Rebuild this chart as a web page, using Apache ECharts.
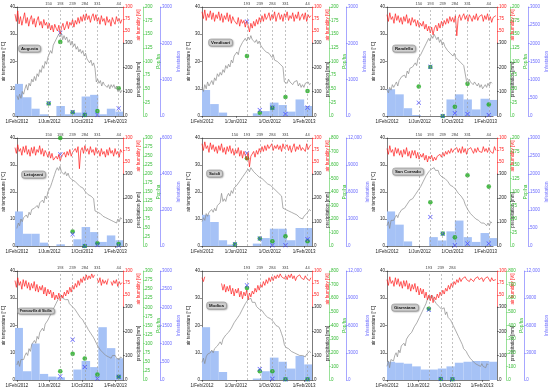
<!DOCTYPE html>
<html><head><meta charset="utf-8">
<script src="https://cdn.jsdelivr.net/npm/echarts@6/dist/echarts.min.js"></script>
<style>html,body{margin:0;padding:0;background:#fff}#c{width:550px;height:390px}</style>
</head><body><div id="c"></div>
<script>
// ---------------- data ----------------
const sites = ['Augusta','Vendicari','Randello','Letojanni','Scicli','San Corrado','Francavilla di Sicilia','Modica','Giarratana'];
const startDate = '2012-02-01';
const endDate = '2013-03-01';
const xTickDates = ['2012-02-01','2012-06-01','2012-10-01','2013-02-01'];
const xTickLabels = ['1/Feb/2012','1/Jun/2012','1/Oct/2012','1/Feb/2013'];
const sampleStep = 5; // days between plotted temperature / humidity readings, from startDate
const monthStarts = ['2012-02-01','2012-03-01','2012-04-01','2012-05-01','2012-06-01','2012-07-01','2012-08-01','2012-09-01','2012-10-01','2012-11-01','2012-12-01','2013-01-01','2013-02-01','2013-03-01'];

// air temperature [°C]
const tempAugusta = [7.5,6,8,6.5,9,8,10, 11.5,9.5,12,11,13.5,12.5, 14.5,13,15.5,14.5,17,16, 18.5,17.5,20,19,21.5,22, 24,23,26,25.5,28,27.5, 30,29,30.5,28,29.5,28, 29,27,28,26,27.5,25.5, 26.5,24.5,25.5,23.5,24.5,23, 24,22,23,21,21.5,19.5, 20.5,18.5,19.5,17.5,12.5,13.5, 12,13,11,12.5,11.5,12, 10.5,11.5,10,11.5,10.5,11.5, 10,11,9,10,8.5,9.5];
const tempVendicari = [10.5,9,11.5,10,12.5,11,12, 13,11.5,14,13,15.5,14.5, 16,15,17,16,18.5,17.5, 19,18,20.5,19.5,22,21.5, 23.5,22.5,25,24.5,27,26.5, 28.5,27.5,29,28,29.5,28, 28.5,27,28,26.5,27.5,26, 26,24.5,25,23.5,24,23, 23.5,21.5,22.5,20.5,21,20, 20.5,19,19.5,18,12.5,13, 12,13.5,12.5,13,11.5,12.5, 12,13,11,12,10.5,11.5, 10.5,12,11.5,12.5,11.5,12];
const tempRandello = [9.5,8.5,10.5,9.5,11.5,10.5,11.5, 12.5,11,13,12.5,14.5,14, 15,14,16.5,15.5,17.5,17, 18,17.5,19.5,18.5,21,20.5, 22.5,22,24.5,24,26.5,27, 28.5,27.5,29.5,28.5,30,29, 28,29,27,28,26,27, 25.5,26,24,24.5,23,23.5, 22,23,21.5,22,20.5,21, 19.5,20,18.5,19,13,12, 13.5,12.5,13,11.5,12.5,12, 11,12,10.5,11.5,10,10.5, 11.5,10.5,12,11,12.5,12];
const tempLetojanni = [6.5,8.5,7.5,10,9,10.5,10, 11.5,10.5,12.5,11.5,13.5,13, 14,13.5,15,14,16,15.5, 17,16,18.5,17.5,20,20.5, 22,23.5,25,26.5,28,29, 28,29.5,27.5,28,26.5,27.5, 26,27,25.5,26,24.5,25, 24,24.5,23,23.5,22,22.5, 21.5,21,20,20.5,19,19.5, 18.5,18,17.5,13,13.5,12.5, 13,12,12.5,11,11.5,10.5, 11,10,10.5,9.5,10,9, 9.5,8.5,10,9,10.5,10];
const tempScicli = [9,10.5,9.5,12,11,12.5,12, 13.5,12.5,14,13,15,14.5, 16,19.5,16.5,17.5,16.5,18.5, 19.5,18.5,20.5,19.5,21.5,21, 22.5,22,24,23.5,25.5,26, 27,26.5,28.5,27.5,29,28.5, 27.5,28,26.5,27,25.5,26, 25,25.5,24,24.5,23,23.5, 22.5,22,21.5,21,20.5,20, 19.5,19,18.5,14,14.5,13.5, 14,13,13.5,12.5,13,12, 12.5,11.5,12,10.5,11,10, 11,10.5,12,11.5,13.5,13];
const tempSanCorrado = [7.5,9,6.5,9.5,10,9.5,10.5, 11.5,10.5,12,11.5,13.5,13, 14,13.5,15.5,15,17,16.5, 17.5,17,19,18.5,20.5,20.5, 22,21.5,24,23.5,26,26.5, 27.5,27,28.5,28,29,28, 27.5,28,26.5,27,25.5,25.5, 25,24.5,24,23.5,22.5,22.5, 22,21.5,21,20.5,19.5,19.5, 18.5,18,17,15.5,14.5,13.5, 13,12,12.5,11,11.5,10, 10.5,9.5,10,8.5,9,8.5, 9,7.5,8.5,7.5,9,8.5];
const tempFrancavilla = [5.5,7,5,7.5,8,7.5,9, 10,9,11.5,10.5,13,12.5, 14.5,13.5,16,15,17.5,17, 19,18,20.5,20,22,22, 24,23.5,26,25.5,28,28.5, 30,29.5,31,30,30.5,29.5, 29,29.5,28,28,27,27, 26,25.5,24.5,24,23,23, 22,21,20.5,19.5,18.5,18, 17,16.5,15.5,14.5,13.5,12.5, 12,11,11.5,10,10,9, 9.5,8.5,9,8,9,8.5, 9,8,8.5,7.5,8.5,8];
const tempModica = [6.5,8,6,8.5,9.5,9,10, 11,10,11.5,11,12.5,12.5, 14,13,15,14.5,16.5,16, 17.5,17,19,18.5,21,21, 22.5,22,24,24,26,26.5, 28,27.5,29.5,29,30,28.5, 28,28.5,27,27,26,26.5, 25.5,25,24,24,23,23, 22.5,22,21.5,21,20,20, 19.5,18.5,17,15.5,13,12, 12.5,11.5,11.5,10.5,11,10, 10.5,9.5,10,9,9.5,9, 9.5,8.5,9.5,9,10.5,10];
const tempGiarratana = [5,7,4.5,7.5,8,7,9, 10,8.5,11,10,12.5,12, 13.5,12.5,15,14.5,16.5,16, 17.5,17,19.5,19,21,21.5, 23,22.5,25,25,27,28, 29.5,29,31,30,31,29.5, 29,28,28.5,27,27.5,26, 25.5,26.5,24,25,23,23.5, 22,21,20,19.5,18,17.5, 16,15,14,13,11.5,11, 10.5,9.5,9,8,7.5,7, 7.5,6,6.5,5.5,6,5, 6,5,5.5,4.5,6,5.5];

// air humidity [%]
const rhAugusta = [85,70,92,65,80,62,75, 88,66,78,60,74,82, 64,76,58,72,80,62, 70,56,74,62,68,55, 66,52,62,48,64,56, 50,62,44,58,66,52, 60,70,55,68,62,74, 58,72,64,78,66,80, 70,84,72,86,74,82, 68,80,86,72,84,70, 78,64,82,70,76,62, 80,68,74,60,78,70, 64,80,70,76,66,74];
const rhVendicari = [90,76,94,72,86,78,92, 74,88,70,84,76,90, 72,86,68,82,74,88, 70,84,66,80,72,76, 64,78,60,74,66,72, 58,70,62,48,66,56, 70,60,74,64,78,68, 82,70,86,74,80,88, 72,84,76,90,70,82, 88,74,84,70,86,78, 90,72,82,76,88,70, 84,76,90,72,80,86, 74,88,70,84,78,82];
const rhRandello = [84,70,88,74,80,66,86, 72,82,68,78,64,80, 70,84,66,76,62,78, 68,74,60,72,58,66, 60,70,54,64,50,60, 46,58,42,56,62,50, 66,56,70,60,72,64, 76,66,80,70,78,68, 82,40,76,84,72,80, 86,74,82,70,84,78, 70,82,74,86,72,80, 76,84,70,82,74,86, 72,80,68,78,74,82];
const rhLetojanni = [80,68,86,72,78,64,82, 70,84,66,76,62,80, 68,82,64,76,70,84, 66,78,62,74,68,60, 72,58,68,54,50,62, 56,66,52,62,58,70, 60,72,64,76,62,70, 66,78,70,82,36,74, 80,68,84,72,78,66, 82,70,76,64,80,68, 74,62,78,66,72,60, 76,64,80,68,74,62, 78,66,72,60,76,70];
const rhScicli = [88,74,92,78,84,70,90, 76,86,72,82,68,84, 74,88,70,80,66,82, 72,84,68,78,64,76, 68,80,62,74,58,72, 64,54,70,40,62,66, 72,60,74,66,78,70, 82,72,84,74,86,78, 80,88,74,84,78,86, 76,84,72,88,78,82, 86,74,84,70,80,88, 72,82,76,86,74,80, 84,72,88,76,82,86];
const rhSanCorrado = [78,66,84,70,76,62,80, 68,78,64,74,60,76, 66,80,62,72,58,74, 64,74,58,70,56,66, 60,68,54,64,50,62, 56,64,52,60,54,62, 58,66,60,70,62,72, 66,74,68,78,70,76, 72,80,70,78,68,82, 70,78,66,76,72,80, 74,68,78,70,80,72, 76,70,82,72,78,70, 80,72,76,68,82,74];
const rhFrancavilla = [80,66,86,70,78,62,82, 68,80,64,76,60,74, 64,78,58,72,56,68, 60,70,52,66,48,62, 52,60,44,56,40,50, 42,54,38,50,44,56, 48,60,52,66,56,70, 62,74,66,80,70,84, 76,88,80,92,82,90, 84,94,86,92,null,84, 76,86,70,82,74,80, 72,84,null,78,70,80, 74,82,68,78,72,76];
const rhModica = [86,78,88,null,null,null,null, null,null,null,null,null,null, null,74,60,72,56,68, 58,70,52,64,48,62, 54,64,46,58,42,56, 48,60,40,54,46,58, 52,64,56,70,60,72, 66,78,70,82,74,86, 78,88,80,90,84,92, 86,94,88,92,84,90, 82,92,86,94,84,90, 80,88,84,92,86,90, 82,90,84,88,80,86];
const rhGiarratana = [82,70,88,74,80,68,86, 72,84,68,78,64,80, 68,80,62,74,58,72, 62,74,56,68,50,64, 52,62,44,56,40,50, 38,50,34,46,40,52, 44,56,48,60,52,64, 58,70,62,74,66,78, 72,82,76,86,78,84, 80,88,82,86,78,84, 86,78,84,80,88,82, 80,86,78,84,82,88, 84,78,86,80,84,82];

// monthly precipitation [mm], Feb 2012 .. Feb 2013
const rainAugusta = [132,77,30,7,0,41,7,14,80,87,7,30,18];
const rainVendicari = [107,49,14,0,0,0,11,20,55,45,18,68,41];
const rainRandello = [110,89,32,4,0,0,0,68,89,68,27,71,66];
const rainLetojanni = [144,51,51,14,0,7,0,28,79,58,17,44,24];
const rainScicli = [130,100,24,6,0,0,10,33,72,72,24,75,75];
const rainSanCorrado = [144,89,19,0,0,37,23,61,106,37,17,54,33];
const rainFrancavilla = [214,36,150,25,14,11,0,43,78,53,217,131,89];
const rainModica = [217,119,33,0,0,0,6,36,92,75,47,99,64];
const rainGiarratana = [75,71,67,56,43,43,47,56,71,75,78,78,75];

// sampling days (day of year, in time order: 150..331 are 2012, 44 is 2013)
const doyAugusta = [150,193,239,284,331,44];
const popAugusta = [23,136,7,2,9,51];
const infAugusta = [350,2290,110,30,30,210];
const doyVendicari = [193,239,284,331,44];
const popVendicari = [110,6,15,35,46];
const infVendicari = [2600,165,230,55,230];
const doyRandello = [150,193,239,284,331,44];
const popRandello = [54,90,0,17,59,21];
const infRandello = [366,1357,0,74,55,28];
const doyLetojanni = [150,193,239,284,331,44];
const popLetojanni = [null,300,40,0,7.5,5.5];
const infLetojanni = [null,5090,650,0,60,20];
const doyScicli = [150,193,239,284,331,44];
const popScicli = [12,650,55,35,72,35];
const infScicli = [190,10300,830,80,80,750];
const doySanCorrado = [150,193,239,284,331,44];
const popSanCorrado = [null,81,23,16,131,110];
const infSanCorrado = [null,806,342,20,67,67];
const doyFrancavilla = [193,239,284,331,44];
const popFrancavilla = [24,72,59,15,9];
const infFrancavilla = [100,1110,358,40,90];
const doyModica = [193,239,284,331,44];
const popModica = [675,64,64,5,5];
const infModica = [10420,1210,140,60,60];
const doyGiarratana = [193,239,284];
const popGiarratana = [523,7,5];
const infGiarratana = [7740,110,80];

// axis scales per site
const popMax = [200,200,200,300,800,200,300,800,800];
const popStep = [25,25,25,25,100,25,25,100,100];
const infMax = [3000,3000,3000,6000,12000,3000,3000,12000,12000];
const infStep = [1000,1000,500,2000,3000,500,500,3000,3000];

// ---------------- layout ----------------
const colLeft = [15,202,387], colWidth = [108,110,110];
const rowTop = [7,138,271], rowHeight = [109,108,109];
const rhHeight = 36;
const greenOffset = [20,17,17], blueOffset = [37,34,35];
const titleOffset = [[3,38],[6,32],[5,38],[6,33],[4,32],[5,30],[2,37],[4,31],[4,33]];
const titleFont = [4.3,4.3,4.3,4.3,4.3,4.3,3.3,4.3,4.3];
const FONT = 'Liberation Sans, Arial, Helvetica, sans-serif';
const FS = 4.5;

const siteData = [
 {t:tempAugusta,h:rhAugusta,r:rainAugusta,d:doyAugusta,p:popAugusta,n:infAugusta},
 {t:tempVendicari,h:rhVendicari,r:rainVendicari,d:doyVendicari,p:popVendicari,n:infVendicari},
 {t:tempRandello,h:rhRandello,r:rainRandello,d:doyRandello,p:popRandello,n:infRandello},
 {t:tempLetojanni,h:rhLetojanni,r:rainLetojanni,d:doyLetojanni,p:popLetojanni,n:infLetojanni},
 {t:tempScicli,h:rhScicli,r:rainScicli,d:doyScicli,p:popScicli,n:infScicli},
 {t:tempSanCorrado,h:rhSanCorrado,r:rainSanCorrado,d:doySanCorrado,p:popSanCorrado,n:infSanCorrado},
 {t:tempFrancavilla,h:rhFrancavilla,r:rainFrancavilla,d:doyFrancavilla,p:popFrancavilla,n:infFrancavilla},
 {t:tempModica,h:rhModica,r:rainModica,d:doyModica,p:popModica,n:infModica},
 {t:tempGiarratana,h:rhGiarratana,r:rainGiarratana,d:doyGiarratana,p:popGiarratana,n:infGiarratana}
];

const START = Date.parse(startDate+'T00:00:00Z');
const dayOf = s => Math.round((Date.parse(s+'T00:00:00Z') - START)/86400000);
const spanDays = dayOf(endDate);
const xTickPos = xTickDates.map(dayOf);
const jan2012 = dayOf('2012-01-01'), jan2013 = dayOf('2013-01-01');
// convert a time-ordered list of day-of-year values to days since startDate (year rolls over when DOY decreases)
const doyListToDays = list => { let base = jan2012, prev = 0; return list.map(d => { if (d < prev) base = jan2013; prev = d; return base + d - 1; }); };
const fmtX = v => { const k = xTickPos.indexOf(Math.round(v)); return k >= 0 ? xTickLabels[k] : ''; };
const fmtBlue = v => v >= 10000 ? v.toLocaleString('en-US') : String(v);

const RED = '#ff1a1a', GREEN = '#1faa1f', GREEN_TXT = '#33bb33', BLUE = '#6b6bff', XBLUE = '#2f2fff', INK = '#222';
const XSYM = 'path://M1,0L5,4L9,0L10,1L6,5L10,9L9,10L5,6L1,10L0,9L4,5L0,1Z';

const option = {animation:false, backgroundColor:'#fff', textStyle:{fontFamily:FONT}, title:[], grid:[], xAxis:[], yAxis:[], series:[]};

sites.forEach((name,i)=>{
  const col = i%3, row = Math.floor(i/3);
  const L = colLeft[col], W = colWidth[col], T = rowTop[row], H = rowHeight[row];
  const S = siteData[i];
  const sDays = doyListToDays(S.d);
  const g = option.grid.length, xa = option.xAxis.length, ya = option.yAxis.length;
  option.grid.push({left:L, top:T, width:W, height:H});
  option.grid.push({left:L, top:T, width:W, height:rhHeight});
  option.grid.push({left:L, top:T+rhHeight, width:W, height:H-rhHeight});

  const xBase = {type:'value', min:0, max:spanDays, splitLine:{show:false}};
  option.xAxis.push(Object.assign({}, xBase, {gridIndex:g, position:'bottom',
    axisLine:{onZero:false, lineStyle:{color:INK, width:0.6}},
    axisTick:{customValues:xTickPos, length:2, lineStyle:{color:INK, width:0.5}},
    axisLabel:{customValues:xTickPos, formatter:fmtX, fontSize:FS, color:INK, margin:3}}));
  option.xAxis.push(Object.assign({}, xBase, {gridIndex:g+1, position:'top',
    axisLine:{show:true, onZero:false, lineStyle:{color:INK, width:0.6}}, axisTick:{show:false}, axisLabel:{show:false}}));
  option.xAxis.push(Object.assign({}, xBase, {gridIndex:g+2, show:false}));

  const tick = c => ({show:true, length:2, lineStyle:{color:c, width:0.5}});
  option.yAxis.push({gridIndex:g, position:'left', min:0, max:40, interval:10, splitLine:{show:false},
    axisLine:{show:true, onZero:false, lineStyle:{color:INK, width:0.6}}, axisTick:tick(INK),
    axisLabel:{fontSize:FS, color:INK, margin:2},
    name:'air temperature [°C]', nameLocation:'middle', nameGap:9, nameTextStyle:{fontSize:FS, color:INK}});
  option.yAxis.push({gridIndex:g, position:'right', offset:greenOffset[col], min:0, max:popMax[i], interval:popStep[i], splitLine:{show:false},
    axisLine:{show:true, onZero:false, lineStyle:{color:'#55cc55', width:0.6}}, axisTick:tick('#55cc55'),
    axisLabel:{fontSize:FS, color:GREEN_TXT, margin:2},
    name:'Pop/ha', nameLocation:'middle', nameGap:11, nameTextStyle:{fontSize:FS, color:GREEN_TXT}});
  option.yAxis.push({gridIndex:g, position:'right', offset:blueOffset[col], min:0, max:infMax[i], interval:infStep[i], splitLine:{show:false},
    axisLine:{show:true, onZero:false, lineStyle:{color:BLUE, width:0.6}}, axisTick:tick(BLUE),
    axisLabel:{fontSize:FS, color:BLUE, margin:2, formatter:fmtBlue},
    name:'Infestation', nameLocation:'middle', nameGap: infMax[i] >= 10000 ? 17 : 13, nameTextStyle:{fontSize:FS, color:BLUE}});
  option.yAxis.push({gridIndex:g+1, position:'right', min:25, max:100, interval:25, splitLine:{show:false},
    axisLine:{show:true, onZero:false, lineStyle:{color:RED, width:0.6}}, axisTick:tick(RED),
    axisLabel:{fontSize:FS, color:RED, margin:2, showMinLabel:false},
    name:'air humidity [%]', nameLocation:'middle', nameGap:11, nameTextStyle:{fontSize:FS, color:RED}});
  option.yAxis.push({gridIndex:g+2, position:'right', min:0, max:300, interval:100, splitLine:{show:false},
    axisLine:{show:true, onZero:false, lineStyle:{color:INK, width:0.6}}, axisTick:tick(INK),
    axisLabel:{fontSize:FS, color:INK, margin:2},
    name:'precipitation [mm]', nameLocation:'middle', nameGap:12, nameTextStyle:{fontSize:FS, color:INK}});

  // monthly precipitation bars
  const bars = S.r.map((v,k)=>[dayOf(monthStarts[k]), dayOf(monthStarts[k+1]), v]);
  option.series.push({type:'custom', xAxisIndex:xa+2, yAxisIndex:ya+4, data:bars, silent:true, clip:true,
    encode:{x:[0,1], y:2},
    renderItem:(params, api)=>{
      const p0 = api.coord([api.value(0), api.value(2)]);
      const p1 = api.coord([api.value(1), 0]);
      return {type:'rect', shape:{x:p0[0], y:p0[1], width:p1[0]-p0[0], height:p1[1]-p0[1]}, style:{fill:'#a6c2f6'}};
    }});
  // temperature
  option.series.push({type:'line', xAxisIndex:xa, yAxisIndex:ya, showSymbol:false, silent:true,
    data:S.t.map((v,k)=>[k*sampleStep, v]), lineStyle:{color:'#8a8a8a', width:0.7},
    markLine:{symbol:['none','none'], silent:true, animation:false,
      lineStyle:{color:'#9a9a9a', type:[2,2], width:0.6},
      label:{show:true, position:'end', formatter:'{b}', fontSize:4, color:'#444', distance:1.5},
      data:S.d.map((d,k)=>({name:String(d), xAxis:sDays[k]}))}});
  // humidity
  option.series.push({type:'line', xAxisIndex:xa+1, yAxisIndex:ya+3, showSymbol:false, silent:true, connectNulls:false,
    data:S.h.map((v,k)=>[k*sampleStep, v]), lineStyle:{color:RED, width:0.7}});
  // Pop/ha
  option.series.push({type:'scatter', xAxisIndex:xa, yAxisIndex:ya+1, symbol:'circle', symbolSize:4.6, clip:false, silent:true,
    itemStyle:{color:GREEN}, data:S.d.map((d,k)=>S.p[k]==null?null:[sDays[k], S.p[k]]).filter(x=>x)});
  // Infestation
  option.series.push({type:'scatter', xAxisIndex:xa, yAxisIndex:ya+2, symbol:XSYM, symbolSize:4.6, clip:false, silent:true,
    itemStyle:{color:XBLUE}, data:S.d.map((d,k)=>S.n[k]==null?null:[sDays[k], S.n[k]]).filter(x=>x)});

  option.title.push({text:name, left:L+titleOffset[i][0], top:T+titleOffset[i][1], padding:[1.5,3],
    backgroundColor:'#d2d2d2', borderColor:'#8a8a8a', borderWidth:0.5, borderRadius:2.5,
    shadowColor:'rgba(0,0,0,0.35)', shadowBlur:1.5, shadowOffsetX:0.8, shadowOffsetY:0.8,
    textStyle:{fontSize:titleFont[i], fontWeight:'bold', color:'#111', fontFamily:FONT}});
});

const chart = echarts.init(document.getElementById('c'));
chart.setOption(option);
</script></body></html>
